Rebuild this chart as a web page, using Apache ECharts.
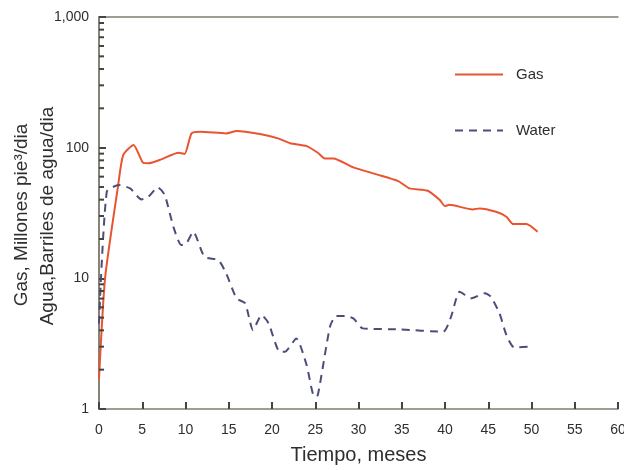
<!DOCTYPE html>
<html>
<head>
<meta charset="utf-8">
<script src="https://cdn.jsdelivr.net/npm/echarts@6/dist/echarts.min.js"></script>
<style>
    html, body {margin: 0; padding: 0; background: #fff;}
    #chart01 {width: 624px; height: 470px;}
</style>
</head>
<body>
<div id="chart01"></div>
<script>
var gasMonths = [0, 0.7, 2.2, 2.8, 4.0, 5.1, 5.7, 7.2, 9.2, 9.9, 10.7, 11.7, 14.7, 15.9, 18.6, 20.7, 22.1, 24.0, 25.3, 26.1, 27.1, 29.4, 32.1, 34.6, 35.9, 38.0, 39.4, 40.0, 40.5, 43.2, 44.0, 45.9, 47.1, 47.9, 49.4, 50.7];
var gasValues = [1.7, 10, 50.8, 87.8, 104.8, 76.6, 76, 81.4, 91.4, 89.5, 128.6, 132.4, 128.6, 134, 127, 117.8, 108, 102.8, 91.4, 82.8, 82.8, 70.7, 62.5, 55.5, 48.8, 46.8, 39.7, 35.7, 36.5, 33.7, 34.3, 32.3, 29.6, 26, 26, 22.7];

var waterMonths = [0, 0.9, 2.3, 3.6, 4.9, 5.7, 6.8, 7.6, 8.6, 9.5, 10.1, 10.9, 12.2, 13.8, 14.7, 15.9, 16.9, 17.8, 18.8, 19.6, 20.9, 21.5, 22.8, 24.0, 24.9, 25.3, 26.7, 27.4, 28.4, 29.4, 30.5, 34.8, 39.8, 40.7, 41.7, 43.0, 44.6, 45.3, 46.3, 47.1, 48.0, 50.0];
var waterValues = [4.5, 46, 51.7, 48.8, 40.2, 42, 49.7, 43.4, 24.8, 18, 18.5, 22.7, 14.6, 13.8, 10.9, 7.03, 6.44, 4.02, 5.24, 4.53, 2.74, 2.74, 3.47, 2.17, 1.24, 1.28, 4.26, 5.15, 5.15, 4.94, 4.14, 4.07, 3.9, 5.08, 7.9, 7.03, 7.68, 7.23, 5.4, 3.68, 2.96, 3.0];

var minorTickValues = [2, 3, 4, 5, 6, 7, 8, 9, 20, 30, 40, 50, 60, 70, 80, 90, 200, 300, 400, 500, 600, 700, 800, 900];

// canvas: con svg no salian los ticks
var chart01 = echarts.init(document.getElementById("chart01"));

function pairs(xs, ys) {
    var out = [];
    for (var i = 0; i < xs.length; i++) {
        out.push([xs[i], ys[i]]);
    }
    return out;
}

var axisColor = '#7d7d70';
var tickColor = '#444';
var textColor = '#2e2e2e';
var font = 'Liberation Sans, Arial, sans-serif';

var option = {
    backgroundColor: '#fff',
    animation: false,
    grid: {
        left: 99,
        right: 6,
        top: 17,
        bottom: 61,
        outerBoundsMode: 'none'
    },
    legend: {
        orient: 'vertical',
        left: 449,
        top: 62,
        itemWidth: 48,
        itemHeight: 14,
        itemGap: 41,
        itemStyle: {opacity: 0},
        textStyle: {fontFamily: font, fontSize: 15, color: textColor, padding: [0, 0, 0, 8]},
        data: ['Gas', 'Water']
    },
    xAxis: [{
        type: 'value',
        min: 0,
        max: 60,
        interval: 5,
        name: 'Tiempo, meses',
        nameLocation: 'middle',
        nameGap: 36,
        nameTextStyle: {fontFamily: font, fontSize: 20, color: textColor},
        axisLine: {show: true, lineStyle: {color: axisColor, width: 1.5}},
        axisTick: {show: true, inside: true, length: 7, lineStyle: {color: tickColor, width: 2}},
        axisLabel: {fontFamily: font, fontSize: 14, color: textColor, margin: 14},
        splitLine: {show: false}
    }, {
        type: 'value',
        position: 'top',
        min: 0,
        max: 60,
        axisLine: {show: true, lineStyle: {color: axisColor, width: 1.5}},
        axisTick: {show: false},
        axisLabel: {show: false},
        splitLine: {show: false}
    }],
    yAxis: [{
        type: 'log',
        logBase: 10,
        min: 1,
        max: 1000,
        axisLine: {show: true, lineStyle: {color: axisColor, width: 1.5}},
        axisTick: {show: true, inside: true, length: 7, lineStyle: {color: tickColor, width: 2}},
        axisLabel: {
            fontFamily: font, fontSize: 14, color: textColor, margin: 10,
            formatter: function (v) {
                return v >= 1000 ? '1,000' : String(v);
            }
        },
        splitLine: {show: false}
    }, {
        type: 'log',
        position: 'right',
        logBase: 10,
        min: 1,
        max: 1000,
        axisLine: {show: true, lineStyle: {color: axisColor, width: 1.5}},
        axisTick: {show: false},
        axisLabel: {show: false},
        splitLine: {show: false}
    }],
    graphic: [{
        type: 'text',
        x: 22,
        y: 215,
        rotation: Math.PI / 2,
        style: {
            text: 'Gas, Millones pie³/dia',
            fontFamily: font,
            fontSize: 19,
            fill: textColor,
            align: 'center',
            verticalAlign: 'middle'
        }
    }, {
        type: 'text',
        x: 48,
        y: 216,
        rotation: Math.PI / 2,
        style: {
            text: 'Agua,Barriles de agua/dia',
            fontFamily: font,
            fontSize: 19,
            fill: textColor,
            align: 'center',
            verticalAlign: 'middle'
        }
    }],
    series: [
        {
            name: 'Gas',
            type: 'line',
            symbol: 'none',
            smooth: 0.2,
            data: pairs(gasMonths, gasValues),
            lineStyle: {color: '#ea5330', width: 2},
            itemStyle: {color: '#ea5330'}
        },
        {
            name: 'Water',
            type: 'line',
            symbol: 'none',
            smooth: 0.2,
            data: pairs(waterMonths, waterValues),
            lineStyle: {color: '#4c4e78', width: 2, type: [8, 6]},
            itemStyle: {color: '#4c4e78'}
        },
        {
            type: 'custom',
            silent: true,
            clip: false,
            z: 10,
            xAxisIndex: 0,
            yAxisIndex: 0,
            data: minorTickValues.map(function (v) { return [0, v]; }),
            encode: {x: 0, y: 1},
            renderItem: function (params, api) {
                var p = api.coord([api.value(0), api.value(1)]);
                return {
                    type: 'rect',
                    shape: {x: p[0], y: p[1] - 1, width: 5, height: 2},
                    style: {fill: tickColor}
                };
            }
        }
    ]
};

if (option && typeof option === "object") {
    chart01.setOption(option, true);
}
</script>
</body>
</html>
